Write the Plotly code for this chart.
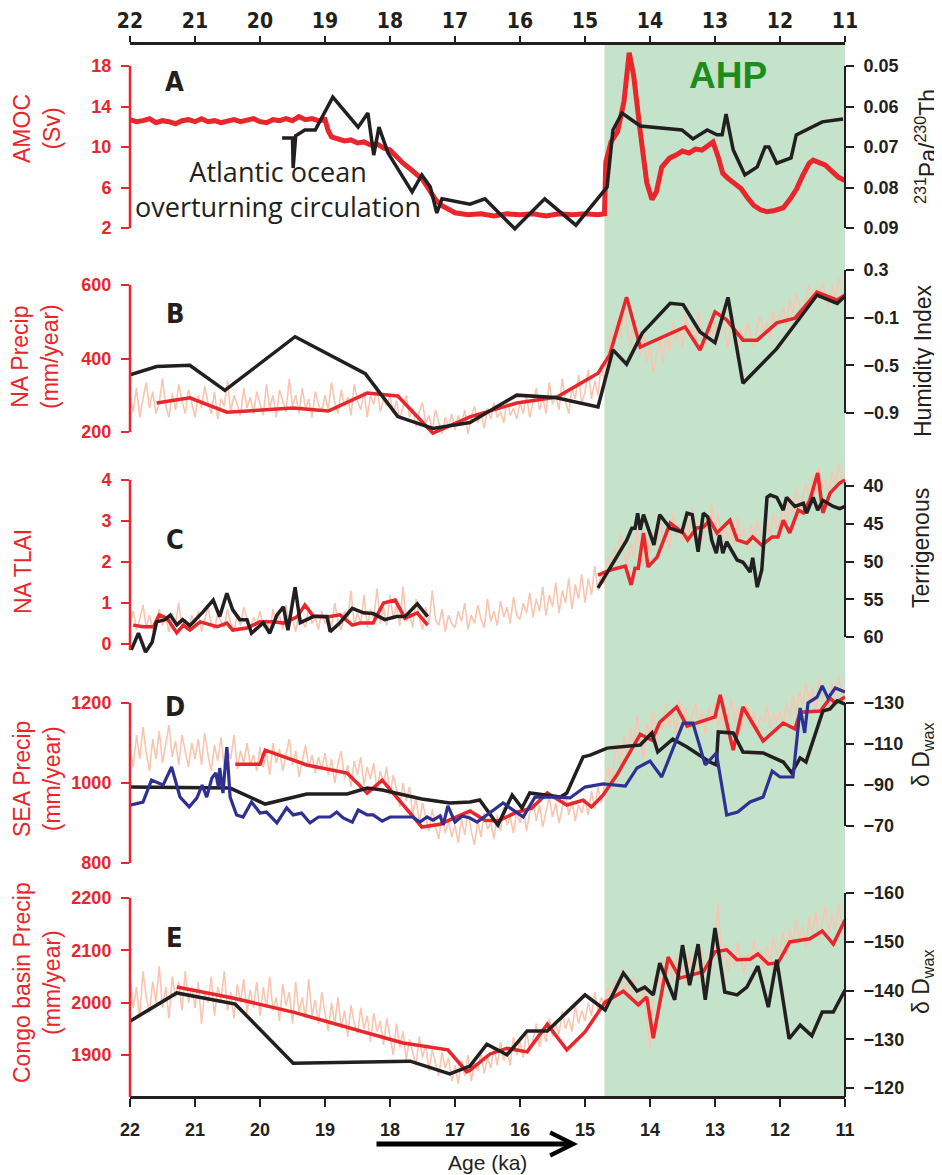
import plotly.graph_objects as go

# ---------------- colours ----------------
RED = "#E8262B"
BLACK = "#231F20"
PINK = "#F8C6B0"
BLUE = "#2E3192"
GREEN_BG = "#C4E3CA"
GREEN_TXT = "#1C8C1C"

# ---------------- data ----------------
x_ticks = [22, 21, 20, 19, 18, 17, 16, 15, 14, 13, 12, 11]
grid_age = [round(22.0 - 0.05 * i, 2) for i in range(221)]  # model output ages (ka)
ahp_start, ahp_end = 14.7, 11.0

# Panel A : AMOC (Sv) and 231Pa/230Th
amoc_age = [22.0, 21.9, 21.8, 21.7, 21.6, 21.5, 21.4, 21.3, 21.2, 21.1, 21.0,
            20.9, 20.8, 20.7, 20.6, 20.5, 20.4, 20.3, 20.2, 20.1, 20.0,
            19.9, 19.8, 19.7, 19.6, 19.5, 19.4, 19.3, 19.2, 19.1, 19.0,
            18.95, 18.9, 18.8, 18.7, 18.6, 18.5, 18.4, 18.3, 18.2, 18.1, 18.0,
            17.9, 17.8, 17.7, 17.6, 17.5, 17.4, 17.3, 17.2, 17.1, 17.0,
            16.8, 16.6, 16.4, 16.2, 16.0, 15.8, 15.6, 15.4, 15.2, 15.0, 14.8, 14.7,
            14.68, 14.6, 14.5, 14.4, 14.32, 14.25, 14.15, 14.05, 13.97, 13.9, 13.82,
            13.7, 13.6, 13.5, 13.4, 13.3, 13.2, 13.1, 13.03, 12.95, 12.88, 12.8,
            12.7, 12.6, 12.5, 12.4, 12.3, 12.2, 12.1, 12.0, 11.95, 11.85, 11.75,
            11.65, 11.55, 11.49, 11.4, 11.3, 11.2, 11.1, 11.0]
amoc_sv = [12.7, 12.5, 12.6, 12.8, 12.4, 12.6, 12.5, 12.3, 12.6, 12.7, 12.5,
           12.8, 12.5, 12.6, 12.4, 12.6, 12.7, 12.5, 12.6, 12.8, 12.5,
           12.4, 12.7, 12.6, 12.8, 12.6, 13.0, 12.7, 12.8, 12.6, 12.7,
           11.6, 11.0, 10.8, 10.6, 10.7, 10.4, 10.5, 10.2, 10.3, 9.9, 9.7,
           9.0, 8.4, 7.9, 7.4, 6.8, 5.8, 4.8, 4.2, 3.8, 3.5,
           3.3, 3.4, 3.2, 3.4, 3.3, 3.4, 3.2, 3.4, 3.3, 3.4, 3.3, 3.4,
           8.5, 10.5, 11.5, 14.5, 19.3, 17.0, 11.5, 6.5, 4.8, 5.6, 8.0,
           8.9, 9.2, 9.6, 9.4, 9.8, 9.7, 10.1, 10.5, 9.0, 7.4, 6.9,
           6.4, 5.9, 5.0, 4.2, 3.8, 3.6, 3.7, 3.9, 4.0, 4.8, 5.8,
           7.2, 8.4, 8.7, 8.5, 8.2, 7.6, 7.0, 6.7]
pa_th_age = [19.66, 19.5, 19.49, 19.45, 19.31, 19.15, 18.88, 18.49, 18.34, 18.25, 18.17,
             18.03, 17.66, 17.51, 17.38, 17.28, 17.2, 16.77, 16.54, 16.08, 15.62, 15.14,
             14.66, 14.57, 14.43, 14.15, 13.51, 13.34, 13.12, 12.97, 12.89, 12.83, 12.72,
             12.54, 12.35, 12.23, 12.17, 12.05, 11.83, 11.75, 11.35, 11.03]
pa_th = [0.0678, 0.0678, 0.0752, 0.0672, 0.0658, 0.0658, 0.0577, 0.0651, 0.0616, 0.0720, 0.0651,
         0.0715, 0.0811, 0.0769, 0.0799, 0.0863, 0.0828, 0.0841, 0.0828, 0.0902, 0.0828, 0.0893,
         0.0799, 0.0658, 0.0616, 0.0648, 0.0658, 0.0680, 0.0658, 0.0670, 0.0670, 0.0619, 0.0707,
         0.0769, 0.0749, 0.0700, 0.0700, 0.0740, 0.0727, 0.0670, 0.0638, 0.0631]

# Panel B : North Africa precipitation (mm/year) and humidity index
na_precip_model = [
    300, 255, 320, 240, 290, 335, 265, 310, 250, 280, 345, 270, 240, 305, 260, 330, 285, 250, 315, 275,  # 22.0-21.05
    240, 300, 265, 325, 280, 250, 310, 235, 290, 270, 340, 255, 300, 275, 245, 320, 265, 295, 250, 310,  # 21.0-20.05
    280, 245, 330, 265, 300, 240, 315, 285, 255, 345, 270, 300, 250, 320, 265, 290, 240, 310, 275, 255,  # 20.0-19.05
    300, 260, 335, 280, 250, 315, 270, 295, 245, 330, 285, 260, 310, 240, 300, 275, 325, 255, 290, 270,  # 19.0-18.05
    300, 250, 285, 235, 270, 300, 240, 265, 215, 255, 280, 225, 245, 205, 260, 230, 195, 240, 215, 250,  # 18.0-17.05
    205, 245, 220, 260, 195, 240, 270, 225, 250, 210, 265, 235, 280, 240, 255, 225, 290, 245, 265, 235,  # 17.0-16.05
    280, 250, 300, 240, 285, 320, 260, 295, 250, 335, 275, 300, 260, 345, 285, 250, 320, 290, 355, 275,  # 16.0-15.05
    310, 370, 290, 340, 300, 385, 330, 420, 470, 440, 510, 455, 560, 480, 430, 500, 450, 410, 470, 390,  # 15.0-14.05
    430, 360, 410, 450, 390, 470, 420, 500, 450, 480, 430, 520, 460, 490, 440, 530, 470, 440, 500, 460,  # 14.0-13.05
    500, 450, 530, 470, 430, 490, 455, 420, 480, 440, 500, 460, 430, 485, 520, 470, 500, 455, 530, 490,  # 13.0-12.05
    510, 540, 490, 560, 520, 580, 540, 510, 570, 600, 550, 590, 560, 610, 570, 540, 600, 565, 620, 580,  # 12.0-11.05
    575]
na_precip_age = [21.59, 21.08, 20.51, 19.49, 18.95, 18.35, 17.88, 17.34, 16.77, 16.05, 15.43,
                 14.8, 14.62, 14.36, 14.15, 13.46, 13.23, 13.0, 12.82, 12.57, 12.35, 12.05,
                 11.77, 11.43, 11.12, 11.0]
na_precip = [279, 293, 254, 265, 257, 306, 298, 197, 241, 279, 295,
             360, 410, 567, 431, 486, 423, 527, 505, 450, 450, 497,
             510, 581, 559, 573]
humidity_age = [22.0, 21.59, 21.08, 20.54, 19.46, 18.38, 17.88, 17.34, 16.77, 16.05, 15.46,
                14.8, 14.57, 14.36, 14.12, 13.69, 13.49, 13.23, 13.0, 12.8, 12.57, 12.05,
                11.43, 11.12, 11.0]
humidity = [-0.58, -0.51, -0.50, -0.71, -0.26, -0.57, -0.93, -1.03, -0.98, -0.75, -0.77,
            -0.85, -0.37, -0.49, -0.23, 0.02, 0.01, -0.22, -0.31, 0.07, -0.65, -0.36,
            0.09, 0.02, 0.08]

# Panel C : North Africa TLAI and terrigenous fraction
na_tlai_model = [
    0.5, 0.8, 0.35, 0.6, 0.95, 0.4, 0.7, 0.3, 0.55, 0.85, 0.45, 0.65, 0.3, 0.75, 0.5, 1.0, 0.4, 0.6, 0.35, 0.7,
    0.45, 0.8, 0.3, 0.6, 0.9, 0.5, 0.35, 0.75, 0.55, 0.4, 0.85, 0.5, 0.3, 0.7, 0.45, 0.9, 0.6, 0.35, 0.65, 0.5,
    0.8, 0.4, 0.6, 0.3, 0.85, 0.5, 0.7, 0.35, 0.95, 0.45, 0.6, 0.3, 0.75, 0.55, 0.4, 0.9, 0.5, 0.65, 0.35, 0.8,
    0.5, 0.7, 0.4, 1.0, 0.55, 0.35, 0.8, 0.6, 1.3, 0.45, 0.75, 0.5, 1.2, 0.4, 0.85, 0.6, 1.35, 0.5, 0.9, 0.45,
    1.2, 0.6, 0.95, 0.45, 1.4, 0.55, 0.8, 0.4, 1.1, 0.65, 0.35, 0.9, 0.5, 1.3, 0.6, 0.45, 0.85, 0.3, 0.7, 0.5,
    0.4, 0.8, 0.55, 1.0, 0.35, 0.7, 0.5, 0.95, 0.6, 0.4, 1.1, 0.55, 0.8, 0.45, 1.05, 0.65, 0.9, 0.5, 1.15, 0.7,
    0.6, 1.0, 0.75, 1.25, 0.65, 1.1, 0.8, 1.4, 0.7, 1.2, 0.9, 1.5, 0.75, 1.3, 1.0, 1.6, 0.85, 1.45, 1.1, 1.7,
    1.0, 1.6, 1.2, 1.9, 1.3, 1.75, 1.45, 2.1, 1.8, 2.4, 2.0, 2.7, 2.2, 1.9, 2.5, 2.1, 2.8, 2.3, 2.0, 2.6,
    2.2, 2.7, 2.4, 3.0, 2.5, 2.8, 2.3, 3.2, 2.6, 2.9, 2.5, 3.1, 2.7, 3.3, 2.6, 2.9, 2.5, 3.0, 2.7, 3.4,
    2.8, 3.2, 2.6, 3.0, 2.5, 2.9, 2.4, 3.1, 2.6, 2.8, 2.3, 2.9, 2.5, 3.0, 2.7, 2.4, 3.1, 2.6, 3.2, 2.8,
    3.0, 3.4, 2.9, 3.6, 3.2, 3.8, 3.3, 3.6, 3.9, 3.4, 4.1, 3.6, 4.3, 3.8, 4.0, 3.7, 4.2, 3.9, 4.4, 4.0,
    4.1]
na_tlai_age = [21.95, 21.8, 21.64, 21.55, 21.43, 21.28, 21.18, 21.08, 20.92, 20.66, 20.51,
               20.42, 20.2, 20.0, 19.8, 19.64, 19.43, 19.31, 19.18, 18.97, 18.77, 18.58,
               18.46, 18.26, 18.1, 17.92, 17.77, 17.58, 17.42, None,
               14.8, 14.62, 14.38, 14.29, 14.23, 14.18, 14.1, 14.03, 13.89, 13.69, 13.49,
               13.42, 13.28, 13.18, 13.08, 12.97, 12.88, 12.77, 12.66, 12.51, 12.42, 12.28,
               12.12, 12.03, 11.95, 11.85, 11.72, 11.64, 11.54, 11.42, 11.34, 11.23, 11.08, 11.0]
na_tlai = [0.46, 0.42, 0.42, 0.71, 0.63, 0.27, 0.46, 0.34, 0.54, 0.42, 0.51,
           0.34, 0.39, 0.54, 0.54, 0.51, 0.66, 0.95, 0.68, 0.66, 0.71, 0.46,
           0.51, 0.51, 1.0, 1.07, 0.63, 0.76, 0.46, None,
           1.68, 1.80, 1.90, 1.44, 1.85, 1.85, 2.71, 1.88, 2.12, 2.95, 2.71,
           2.54, 2.83, 2.85, 3.02, 2.71, 2.85, 3.02, 2.54, 2.46, 2.61, 2.41,
           2.61, 2.61, 3.02, 2.71, 3.27, 3.2, 3.51, 4.17, 3.2, 3.68, 3.93, 4.0]
terrig_age = [21.98, 21.87, 21.76, 21.66, 21.59, 21.46, 21.38, 21.28, 21.19, 21.08, 20.88,
              20.72, 20.62, 20.51, 20.42, 20.31, 20.2, 20.13, 19.95, 19.85, 19.74, 19.64,
              19.57, 19.46, 19.38, 19.18, 18.97, 18.92, 18.77, 18.58, 18.41, 18.26, 18.08,
              17.9, 17.77, 17.58, 17.42, None,
              14.8, 14.36, 14.28, 14.23, 14.19, 14.15, 14.1, 13.94, 13.85, 13.69, 13.51,
              13.43, 13.35, 13.26, 13.18, 13.11, 13.05, 12.98, 12.93, 12.88, 12.82, 12.66,
              12.57, 12.46, 12.42, 12.35, 12.28, 12.2, 12.15, 12.05, 11.95, 11.9, 11.77,
              11.64, 11.59, 11.49, 11.42, 11.34, 11.18, 11.08, 11.0]
terrig = [61.7, 59.5, 62.0, 60.7, 58.0, 57.7, 57.1, 58.4, 57.7, 58.5, 56.7,
          55.1, 57.3, 54.2, 56.4, 57.7, 57.7, 59.5, 58.1, 59.5, 57.1, 56.0,
          59.1, 53.4, 58.1, 57.3, 57.3, 59.3, 58.1, 56.2, 56.8, 56.9, 57.7,
          57.3, 57.3, 55.6, 57.3, None,
          53.5, 47.2, 45.6, 45.6, 43.6, 45.8, 43.8, 47.8, 43.8, 45.6, 46.1,
          43.6, 43.8, 48.7, 43.6, 44.1, 47.2, 48.9, 46.5, 48.9, 47.4, 49.8,
          50.1, 51.4, 49.5, 53.4, 51.1, 41.5, 41.2, 41.5, 43.2, 41.5, 42.7,
          42.3, 43.6, 41.5, 43.2, 41.9, 42.7, 43.0, 42.7]

# Panel D : South-East Africa precipitation and leaf-wax dD (two records)
sea_precip_model = [
    1090, 1040, 1120, 1060, 1140, 1075, 1030, 1110, 1060, 1130, 1050, 1095, 1145, 1065, 1105, 1045, 1120, 1080, 1040, 1100,
    1060, 1110, 1045, 1125, 1070, 1030, 1095, 1055, 1115, 1040, 1085, 1060, 1120, 1035, 1080, 1050, 1100, 1045, 1070, 1030,
    1090, 1040, 1075, 1020, 1100, 1050, 1085, 1030, 1070, 1110, 1045, 1080, 1015, 1060, 1095, 1040, 1070, 1025, 1065, 1035,
    1075, 1020, 1060, 1000, 1050, 1080, 1010, 1045, 990, 1055, 1020, 1065, 995, 1040, 1010, 1050, 980, 1030, 1000, 1040,
    970, 1020, 985, 940, 1000, 955, 990, 920, 965, 900, 950, 915, 880, 935, 890, 860, 920, 875, 905, 865,
    895, 850, 910, 870, 930, 880, 845, 905, 865, 925, 885, 900, 860, 920, 880, 940, 895, 915, 875, 930,
    900, 940, 880, 925, 960, 905, 945, 890, 930, 965, 915, 950, 900, 940, 975, 920, 955, 905, 945, 925,
    960, 920, 980, 935, 990, 950, 1000, 1040, 990, 1060, 1100, 1030, 1120, 1070, 1140, 1090, 1170, 1110, 1060, 1150,
    1120, 1180, 1100, 1160, 1130, 1200, 1140, 1180, 1120, 1210, 1150, 1190, 1130, 1170, 1200, 1140, 1180, 1120, 1190, 1150,
    1200, 1140, 1180, 1120, 1170, 1210, 1150, 1190, 1130, 1160, 1200, 1140, 1180, 1120, 1170, 1150, 1195, 1135, 1175, 1150,
    1180, 1140, 1200, 1160, 1220, 1170, 1230, 1190, 1250, 1200, 1240, 1180, 1260, 1210, 1230, 1190, 1250, 1215, 1270, 1220,
    1235]
sea_precip_age = [20.38, 20.0, 19.92, 19.28, 18.66, 18.35, 18.12, 17.51, 17.23, 16.77, 16.54,
                  16.34, 16.05, 15.82, 15.58, 15.28, 15.03, 14.9, 14.72, 14.51, 14.15, 13.97,
                  13.85, 13.59, 13.43, 13.0, 12.92, 12.72, 12.57, 12.26, 11.95, 11.77, 11.69,
                  11.38, 11.23, 11.15, 11.0]
sea_precip = [1047, 1047, 1082, 1045, 1025, 975, 1007, 890, 897, 930, 907,
              905, 927, 937, 975, 945, 957, 940, 970, 1020, 1122, 1107,
              1152, 1190, 1142, 1165, 1220, 1082, 1190, 1105, 1150, 1135, 1177,
              1180, 1212, 1200, 1215]
sea_dd_black_age = [22.0, 20.46, 19.92, 19.28, 18.66, 18.35, 18.12, 17.51, 17.08, 16.77, 16.62,
                    16.49, 16.34, 16.12, 15.97, 15.85, 15.38, 15.28, 15.03, 14.92, 14.66, 14.15,
                    13.97, 13.88, 13.65, 13.43, 13.08, 12.98, 12.95, 12.72, 12.57, 12.26, 11.95,
                    11.82, 11.69, 11.6, 11.49, 11.34, 11.23, 11.12, 11.0]
sea_dd_black = [-89.0, -88.5, -80.7, -85.6, -85.6, -88.5, -87.6, -83.2, -81.2, -81.7, -82.7,
                -76.8, -70.5, -85.1, -78.8, -86.1, -84.1, -86.1, -103.7, -104.6, -108.0, -109.5,
                -115.4, -106.1, -112.4, -108.5, -101.2, -99.8, -115.9, -115.4, -106.1, -105.6, -101.2,
                -95.9, -103.2, -101.2, -112.0, -126.1, -127.1, -131.0, -129.5]
sea_dd_blue_age = [22.0, 21.8, 21.67, 21.49, 21.36, 21.23, 21.09, 20.97, 20.89, 20.82,
                   20.74, 20.68, 20.64, 20.62, 20.57, 20.51, 20.46, 20.36, 20.26, 20.13,
                   20.0, 19.9, 19.74, 19.59, 19.49, 19.36, 19.23, 19.1, 18.92, 18.82,
                   18.72, 18.58, 18.49, 18.35, 18.26, 18.12, 18.0, 17.65, 17.54, 17.43,
                   17.34, 17.23, 17.18, 17.11, 17.0, 16.89, 16.77, 16.66, 16.51, 16.26,
                   15.95, 15.77, 15.43, 15.23, 15.0, 14.72, 14.38, 14.2, 14.0, 13.82,
                   13.49, 13.34, 13.15, 12.98, 12.82, 12.65, 12.46, 12.26, 12.12, 12.0,
                   11.8, 11.69, 11.62, 11.57, 11.43, 11.35, 11.26, 11.15, 11.0]
sea_dd_blue = [-80.2, -81.7, -92.4, -90.0, -98.8, -84.1, -79.3, -83.7, -90.0, -84.1,
               -93.4, -95.9, -89.0, -98.3, -86.1, -108.5, -84.1, -75.4, -74.4, -81.7,
               -76.3, -76.8, -71.5, -78.8, -75.4, -76.3, -71.5, -74.4, -74.4, -76.8,
               -73.9, -71.9, -77.8, -75.4, -75.4, -72.4, -74.4, -74.4, -71.9, -74.4,
               -72.9, -74.9, -70.5, -79.8, -71.9, -74.9, -73.9, -71.9, -75.4, -81.2,
               -74.4, -84.1, -84.1, -83.7, -89.0, -90.5, -89.5, -98.3, -101.7, -93.9,
               -120.2, -120.2, -99.8, -105.6, -75.4, -76.8, -81.7, -84.1, -96.8, -93.9,
               -93.9, -127.6, -115.4, -130.0, -132.9, -138.3, -132.4, -137.3, -135.4]

# Panel E : Congo basin precipitation and leaf-wax dD
congo_model = [
    2050, 1990, 2030, 1970, 2060, 2010, 1980, 2040, 2000, 2070, 1990, 2030, 1970, 2050, 2010, 2040, 1985, 2060, 2000, 2030,
    1990, 2040, 1960, 2020, 2000, 2050, 1975, 2030, 2005, 2060, 1985, 2020, 1970, 2035, 2000, 2045, 1980, 2025, 1990, 2040,
    1975, 2030, 1990, 2050, 1985, 2010, 1965, 2035, 1995, 2020, 1960, 2040, 1980, 2010, 1970, 2045, 1975, 2005, 1960, 2020,
    1980, 1945, 2000, 1960, 2010, 1950, 1985, 1935, 1995, 1960, 1940, 1990, 1950, 1975, 1925, 1980, 1945, 1965, 1920, 1970,
    1935, 1900, 1960, 1915, 1945, 1890, 1930, 1905, 1880, 1935, 1895, 1920, 1870, 1910, 1885, 1860, 1905, 1875, 1895, 1850,
    1880, 1845, 1890, 1860, 1900, 1850, 1885, 1870, 1905, 1865, 1895, 1875, 1915, 1880, 1925, 1890, 1910, 1880, 1935, 1900,
    1925, 1895, 1945, 1910, 1930, 1960, 1915, 1950, 1925, 1970, 1935, 1960, 1940, 1985, 1950, 1970, 1945, 1995, 1960, 1985,
    1965, 2000, 1975, 2020, 1985, 2010, 1995, 2030, 2000, 2045, 2015, 2055, 2020, 2040, 2005, 2050, 2015, 1990, 2035, 1975,
    1910, 2010, 2060, 2030, 2080, 2045, 2075, 2040, 2090, 2050, 2070, 2035, 2095, 2055, 2080, 2045, 2100, 2060, 2085, 2070,
    2110, 2190, 2080, 2110, 2060, 2100, 2070, 2115, 2080, 2055, 2095, 2070, 2120, 2085, 2100, 2065, 2110, 2080, 2125, 2090,
    2100, 2135, 2090, 2140, 2110, 2160, 2120, 2145, 2105, 2165, 2130, 2175, 2120, 2150, 2185, 2135, 2170, 2140, 2190, 2150,
    2165]
congo_age = [21.28, 20.42, 19.49, 17.8, 17.11, 16.82, 16.77, 16.46, 16.2, 15.89, 15.58,
             15.28, 15.0, 14.69, 14.41, 14.18, 14.05, 13.95, 13.72, 13.54, 13.18, 13.0,
             12.82, 12.66, 12.46, 12.34, 12.18, 12.03, 11.85, 11.54, 11.35, 11.18, 11.0]
congo_precip = [2030, 2009, 1982, 1923, 1910, 1868, 1871, 1902, 1913, 1906, 1959,
                1910, 1944, 2001, 2022, 1996, 2011, 1932, 2087, 2047, 2059, 2097,
                2101, 2082, 2083, 2093, 2074, 2076, 2116, 2122, 2137, 2112, 2158]
congo_dd_age = [22.0, 21.28, 20.38, 19.49, 17.69, 17.08, 16.77, 16.51, 16.2, 15.89, 15.58,
                15.0, 14.69, 14.41, 14.2, 14.08, 13.95, 13.85, 13.62, 13.5, 13.39, 13.26,
                13.15, 13.0, 12.85, 12.66, 12.51, 12.34, 12.18, 12.05, 11.86, 11.69, 11.51,
                11.35, 11.18, 11.0]
congo_dd = [-133.7, -139.5, -137.2, -125.1, -125.5, -122.9, -124.5, -129.0, -126.8, -131.7, -131.7,
            -139.1, -136.0, -143.6, -139.9, -140.7, -139.1, -145.6, -138.1, -149.3, -141.1, -149.5,
            -138.1, -152.8, -139.7, -139.1, -140.7, -145.0, -136.6, -146.3, -130.1, -132.9, -130.7,
            -135.6, -135.6, -140.1]

# tick values / labels
amoc_ticks = [2, 6, 10, 14, 18]
pa_ticks = [0.05, 0.06, 0.07, 0.08, 0.09]
na_precip_ticks = [200, 400, 600]
humidity_ticks = [-0.9, -0.5, -0.1, 0.3]
tlai_ticks = [0, 1, 2, 3, 4]
terrig_ticks = [40, 45, 50, 55, 60]
sea_ticks = [800, 1000, 1200]
sea_dd_ticks = [-130, -110, -90, -70]
congo_ticks = [1900, 2000, 2100, 2200]
congo_dd_ticks = [-160, -150, -140, -130, -120]


def lab(v, fmt="{:g}"):
    return fmt.format(v).replace("-", "\u2212")


# ---------------- geometry ----------------
# the page body adds an 8 px offset; all target positions are in screenshot pixels
OFF = 8
SW, SH = 942, 1175                  # screenshot size
PL, PR, PT, PB = 130, 845, 43, 1097  # plot area in screenshot pixels
W, H = SW - OFF, SH - OFF
ML, MT = PL - OFF, PT - OFF
MR, MB = W - (PR - OFF), H - (PB - OFF)
PW, PH = PR - PL, PB - PT


def dom(p_top, p_bot):
    return [(PB - p_bot) / PH, (PB - p_top) / PH]


def rng(p_top, p_bot, v1, p1, v2, p2):
    s = (v2 - v1) / (p2 - p1)
    return [v1 + (p_bot - p1) * s, v1 + (p_top - p1) * s]


def px_x(px):
    return (px - PL) / PW


def px_y(py):
    return (PB - py) / PH


SANS = "Liberation Sans, Arial, Helvetica, sans-serif"
NARROW = "Liberation Sans Narrow, Arial Narrow, DejaVu Sans Condensed, sans-serif"

panels = [
    dict(top=45, bot=236, L=(18, 66, 2, 228), R=(0.05, 66, 0.09, 228),
         lt=amoc_ticks, ltxt=[lab(v) for v in amoc_ticks],
         rt=pa_ticks, rtxt=[lab(v, "{:.2f}") for v in pa_ticks],
         lline=(2, 18), rline=(0.09, 0.05)),
    dict(top=262, bot=448, L=(600, 285, 200, 432), R=(0.3, 270, -0.9, 413),
         lt=na_precip_ticks, ltxt=[lab(v) for v in na_precip_ticks],
         rt=humidity_ticks, rtxt=[lab(v, "{:.1f}") for v in humidity_ticks],
         lline=(200, 600), rline=(-0.9, 0.3)),
    dict(top=462, bot=660, L=(4, 480, 0, 644), R=(40, 486, 60, 637),
         lt=tlai_ticks, ltxt=[lab(v) for v in tlai_ticks],
         rt=terrig_ticks, rtxt=[lab(v) for v in terrig_ticks],
         lline=(-0.15, 4), rline=(60, 39.5)),
    dict(top=675, bot=870, L=(1200, 703, 800, 863), R=(-130, 703, -70, 826),
         lt=sea_ticks, ltxt=[lab(v) for v in sea_ticks],
         rt=sea_dd_ticks, rtxt=[lab(v) for v in sea_dd_ticks],
         lline=(800, 1200), rline=(-70, -130)),
    dict(top=880, bot=1097, L=(2200, 898, 1900, 1055), R=(-160, 893, -120, 1088),
         lt=congo_ticks, ltxt=[lab(v) for v in congo_ticks],
         rt=congo_dd_ticks, rtxt=[lab(v) for v in congo_dd_ticks],
         lline=None, rline=None),
]

fig = go.Figure()
layout = dict(
    width=W, height=H,
    margin=dict(l=ML, r=MR, t=MT, b=MB, pad=0, autoexpand=False),
    paper_bgcolor="white", plot_bgcolor="rgba(0,0,0,0)",
    showlegend=False,
    font=dict(family=SANS, color=BLACK),
)

shapes = [dict(type="rect", xref="x", yref="paper", x0=ahp_start, x1=ahp_end, y0=0, y1=1,
               fillcolor=GREEN_BG, line=dict(width=0), layer="below")]

for i, p in enumerate(panels):
    ln = 2 * i + 1
    rn = 2 * i + 2
    lname = "yaxis" if ln == 1 else f"yaxis{ln}"
    rname = f"yaxis{rn}"
    lid = "y" if ln == 1 else f"y{ln}"
    rid = f"y{rn}"
    lr = rng(p["top"], p["bot"], *p["L"])
    rr = rng(p["top"], p["bot"], *p["R"])
    layout[lname] = dict(
        domain=dom(p["top"], p["bot"]), range=lr, anchor="x", side="left",
        showline=False, showgrid=False, zeroline=False, automargin=False,
        ticks="outside", ticklen=8, tickwidth=2, tickcolor=RED,
        tickvals=p["lt"], ticktext=p["ltxt"], ticklabelstandoff=6,
        tickfont=dict(family=SANS, size=18, color=RED, weight="bold"),
    )
    layout[rname] = dict(
        range=rr, anchor="x", side="right", overlaying=lid,
        showline=False, showgrid=False, zeroline=False, automargin=False,
        ticks="outside", ticklen=8, tickwidth=2, tickcolor=BLACK,
        tickvals=p["rt"], ticktext=p["rtxt"], ticklabelstandoff=6,
        tickfont=dict(family=SANS, size=18, color=BLACK, weight="bold"),
    )
    l0, l1 = p["lline"] if p["lline"] else (lr[0], p["L"][0])
    r0, r1 = p["rline"] if p["rline"] else (rr[0], p["R"][0])
    shapes.append(dict(type="line", xref="paper", yref=lid, x0=0, x1=0, y0=l0, y1=l1,
                       line=dict(color=RED, width=2.5)))
    shapes.append(dict(type="line", xref="paper", yref=rid, x0=1, x1=1, y0=r0, y1=r1,
                       line=dict(color=BLACK, width=2)))

layout["xaxis"] = dict(
    domain=[0, 1], range=[22, 11], anchor="free", position=0, automargin=False,
    showline=True, linecolor=BLACK, linewidth=2.5, mirror=False,
    showgrid=False, zeroline=False, ticks="outside", ticklen=8, tickwidth=2,
    tickcolor=BLACK, tickvals=x_ticks, ticktext=[str(v) for v in x_ticks],
    ticklabelstandoff=8,
    tickfont=dict(family=SANS, size=18, color=BLACK, weight="bold"),
)
layout["xaxis2"] = dict(
    range=[22, 11], overlaying="x", side="top", anchor="free", position=1, automargin=False,
    showline=True, linecolor=BLACK, linewidth=2.5,
    showgrid=False, zeroline=False, ticks="outside", ticklen=6, tickwidth=1.5,
    tickcolor=BLACK, tickvals=x_ticks, ticktext=[str(v) for v in x_ticks],
    ticklabelstandoff=0,
    tickfont=dict(family=NARROW, size=21, color=BLACK, weight="bold"),
)


def line(x, y, yaxis, color, width, xaxis="x"):
    return go.Scatter(x=x, y=y, xaxis=xaxis, yaxis=yaxis, mode="lines",
                      line=dict(color=color, width=width), hoverinfo="skip",
                      connectgaps=False)


# trace so the top axis is drawn
fig.add_trace(go.Scatter(x=[22, 11], y=[None, None], xaxis="x2", yaxis="y", mode="lines",
                         hoverinfo="skip"))
# A
fig.add_trace(line(amoc_age, amoc_sv, "y", RED, 5))
fig.add_trace(line(pa_th_age, pa_th, "y2", BLACK, 3.5))
# B
fig.add_trace(line(grid_age, na_precip_model, "y3", PINK, 1.6))
fig.add_trace(line(na_precip_age, na_precip, "y3", RED, 3.5))
fig.add_trace(line(humidity_age, humidity, "y4", BLACK, 3.5))
# C
fig.add_trace(line(grid_age, na_tlai_model, "y5", PINK, 1.6))
fig.add_trace(line(na_tlai_age, na_tlai, "y5", RED, 3.5))
fig.add_trace(line(terrig_age, terrig, "y6", BLACK, 3.5))
# D
fig.add_trace(line(grid_age, sea_precip_model, "y7", PINK, 1.6))
fig.add_trace(line(sea_precip_age, sea_precip, "y7", RED, 3.5))
fig.add_trace(line(sea_dd_black_age, sea_dd_black, "y8", BLACK, 3.5))
fig.add_trace(line(sea_dd_blue_age, sea_dd_blue, "y8", BLUE, 3.2))
# E
fig.add_trace(line(grid_age, congo_model, "y9", PINK, 1.6))
fig.add_trace(line(congo_age, congo_precip, "y9", RED, 3.5))
fig.add_trace(line(congo_dd_age, congo_dd, "y10", BLACK, 3.5))

ann = []


def text(px, py, s, size, color=BLACK, family=SANS, weight="normal", angle=0):
    ann.append(dict(xref="paper", yref="paper", x=px_x(px), y=px_y(py), text=s,
                    showarrow=False, xanchor="center", yanchor="middle", textangle=angle,
                    font=dict(family=family, size=size, color=color, weight=weight)))


# panel letters
for letter, (lx, ly) in zip("ABCDE", [(174, 82), (175, 314), (175, 539), (175, 706), (174, 937)]):
    text(lx, ly, letter, 27, BLACK, NARROW, "bold")

text(728, 76, "AHP", 37, GREEN_TXT, SANS, "bold")
text(278, 189, "Atlantic ocean<br>overturning circulation", 27, BLACK, "Open Sans, sans-serif")

# left axis titles
text(37, 129, "AMOC<br>(Sv)", 23, RED, angle=-90)
text(35, 357, "NA Precip<br>(mm/year)", 23, RED, angle=-90)
text(23, 572, "NA TLAI", 23, RED, angle=-90)
text(37, 779, "SEA Precip<br>(mm/year)", 23, RED, angle=-90)
text(37, 983, "Congo basin Precip<br>(mm/year)", 23, RED, angle=-90)

# right axis titles
text(926, 147, "<sup>231</sup>Pa/<sup>230</sup>Th", 23, BLACK, angle=-90)
text(923, 361, "Humidity Index", 23, BLACK, angle=-90)
text(921, 548, "Terrigenous", 23, BLACK, angle=-90)
text(922, 755, "\u03b4 D<sub>wax</sub>", 23, BLACK, angle=-90)
text(922, 982, "\u03b4 D<sub>wax</sub>", 23, BLACK, angle=-90)

# bottom arrow and axis title
ann.append(dict(xref="paper", yref="paper", x=px_x(578), y=px_y(1144), ax=375 - 578, ay=0,
                axref="pixel", ayref="pixel", text="", showarrow=True, arrowhead=5,
                arrowsize=0.9, arrowwidth=5, arrowcolor="black"))
text(487, 1162, "Age (ka)", 21, BLACK)

layout["annotations"] = ann
layout["shapes"] = shapes
fig.update_layout(**layout)

fig.write_html("out.html")
